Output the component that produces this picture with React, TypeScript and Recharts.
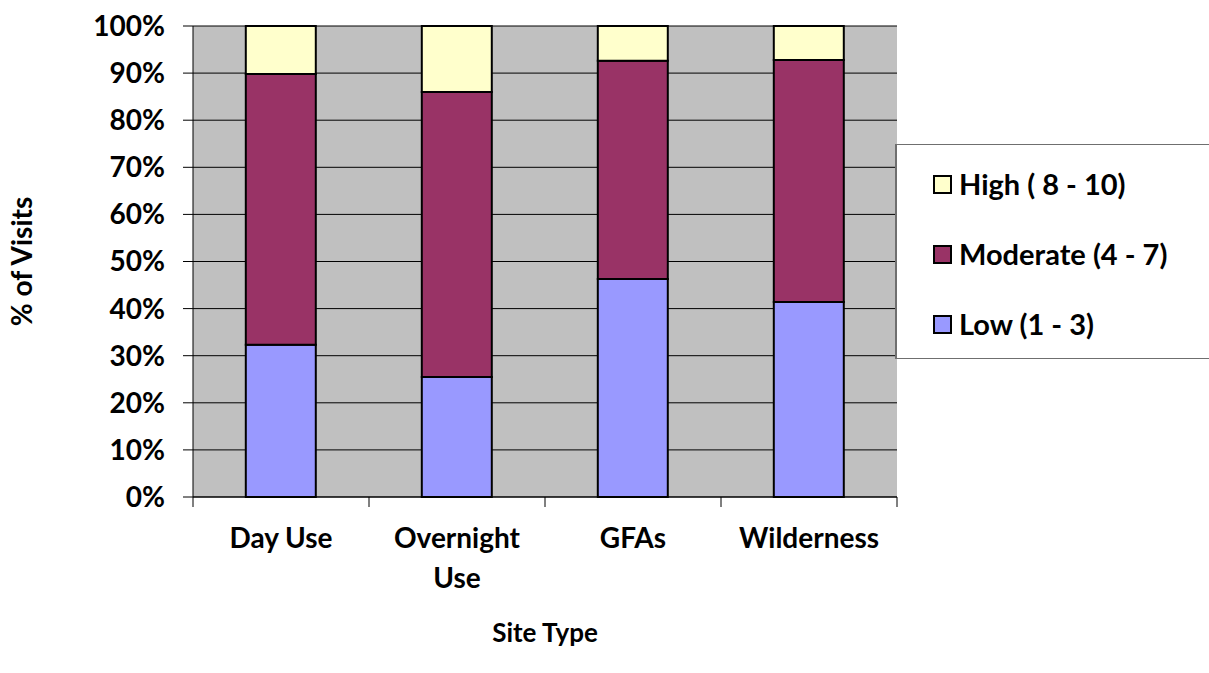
import React from 'react';
import { BarChart, Bar, XAxis, YAxis, CartesianGrid } from 'recharts';

const categories = ['Day Use', 'Overnight Use', 'GFAs', 'Wilderness'];
const categoryLabelLines = [['Day Use'], ['Overnight', 'Use'], ['GFAs'], ['Wilderness']];
const lowValues = [32.3, 25.5, 46.3, 41.4];
const moderateValues = [57.5, 60.5, 46.3, 51.4];
const highValues = [10.2, 14.0, 7.4, 7.2];
const yTicks = [0, 10, 20, 30, 40, 50, 60, 70, 80, 90, 100];

const seriesList = [
  { key: 'low', name: 'Low (1 - 3)', color: '#9999FF' },
  { key: 'moderate', name: 'Moderate (4 - 7)', color: '#993366' },
  { key: 'high', name: 'High ( 8 - 10)', color: '#FFFFCC' },
];

const data = categories.map((name, i) => ({
  name,
  low: lowValues[i],
  moderate: moderateValues[i],
  high: highValues[i],
}));

const FONT = 'Lato, "Open Sans", sans-serif';
const textStyle = { fontFamily: FONT, fontWeight: 700, fontSize: 28, fill: '#000' } as const;

const XTick = (props: any) => {
  const { x, y, payload, index } = props;
  const off = payload && typeof payload.offset === 'number' ? payload.offset : 0;
  const last = index === categories.length - 1;
  const idx = categories.indexOf(payload.value);
  const lines = idx >= 0 ? categoryLabelLines[idx] : [String(payload.value)];
  return (
    <g>
      <line x1={x - off} x2={x - off} y1={y - 33} y2={y - 23} stroke="#000" strokeWidth={1} />
      {last && <line x1={x + off} x2={x + off} y1={y - 33} y2={y - 23} stroke="#000" strokeWidth={1} />}
      <text x={x} y={y + 18} textAnchor="middle" style={textStyle}>
        {lines.map((ln, i) => (
          <tspan key={i} x={x} dy={i === 0 ? 0 : 40}>
            {ln}
          </tspan>
        ))}
      </text>
    </g>
  );
};

export default function App() {
  return (
    <div style={{ position: 'absolute', left: 0, top: 0, width: 1209, height: 673, overflow: 'hidden', background: '#fff' }}>
      <BarChart
        width={1209}
        height={673}
        data={data}
        margin={{ top: 26, right: 312, left: 0, bottom: 0 }}
        barCategoryGap="30%"
      >
        <CartesianGrid vertical={false} stroke="#000" fill="#C0C0C0" fillOpacity={1} />
        <XAxis
          dataKey="name"
          height={176}
          tickLine={false}
          tickSize={10}
          tickMargin={23}
          axisLine={{ stroke: '#000' }}
          interval={0}
          tick={<XTick />}
          label={{ value: 'Site Type', position: 'insideBottom', offset: 31, style: { ...textStyle, fontSize: 26 } }}
        />
        <YAxis
          width={193}
          domain={[0, 100]}
          ticks={yTicks}
          interval={0}
          tickSize={10}
          tickMargin={18}
          tickFormatter={(v: number) => `${v}%`}
          tick={textStyle}
          tickLine={{ stroke: '#000' }}
          axisLine={{ stroke: '#000' }}
          label={{
            value: '% of Visits',
            angle: -90,
            position: 'insideLeft',
            offset: 22,
            style: { ...textStyle, textAnchor: 'middle' },
          }}
        />
        <YAxis
          yAxisId="right"
          orientation="right"
          width={0}
          tick={false}
          tickLine={false}
          axisLine={{ stroke: '#808080' }}
        />
        {seriesList.map((s) => (
          <Bar
            key={s.key}
            dataKey={s.key}
            name={s.name}
            stackId="a"
            fill={s.color}
            stroke="#000"
            strokeWidth={2}
            isAnimationActive={false}
          />
        ))}
      </BarChart>
      <div
        style={{
          position: 'absolute',
          left: 895,
          top: 144,
          width: 330,
          height: 215,
          border: '1px solid #6F6F6F',
          borderLeft: '2px solid #6F6F6F',
          background: '#fff',
          boxSizing: 'border-box',
          paddingTop: 4,
          paddingLeft: 36,
        }}
      >
        {[...seriesList].reverse().map((s) => (
          <div key={s.key} style={{ display: 'flex', alignItems: 'center', height: 70 }}>
            <div
              style={{
                width: 15,
                height: 15,
                background: s.color,
                border: '2px solid #000',
                marginRight: 7,
                flex: 'none',
              }}
            />
            <span style={{ fontFamily: FONT, fontWeight: 700, fontSize: 29, color: '#000', lineHeight: '32px', whiteSpace: 'nowrap' }}>
              {s.name}
            </span>
          </div>
        ))}
      </div>
    </div>
  );
}
